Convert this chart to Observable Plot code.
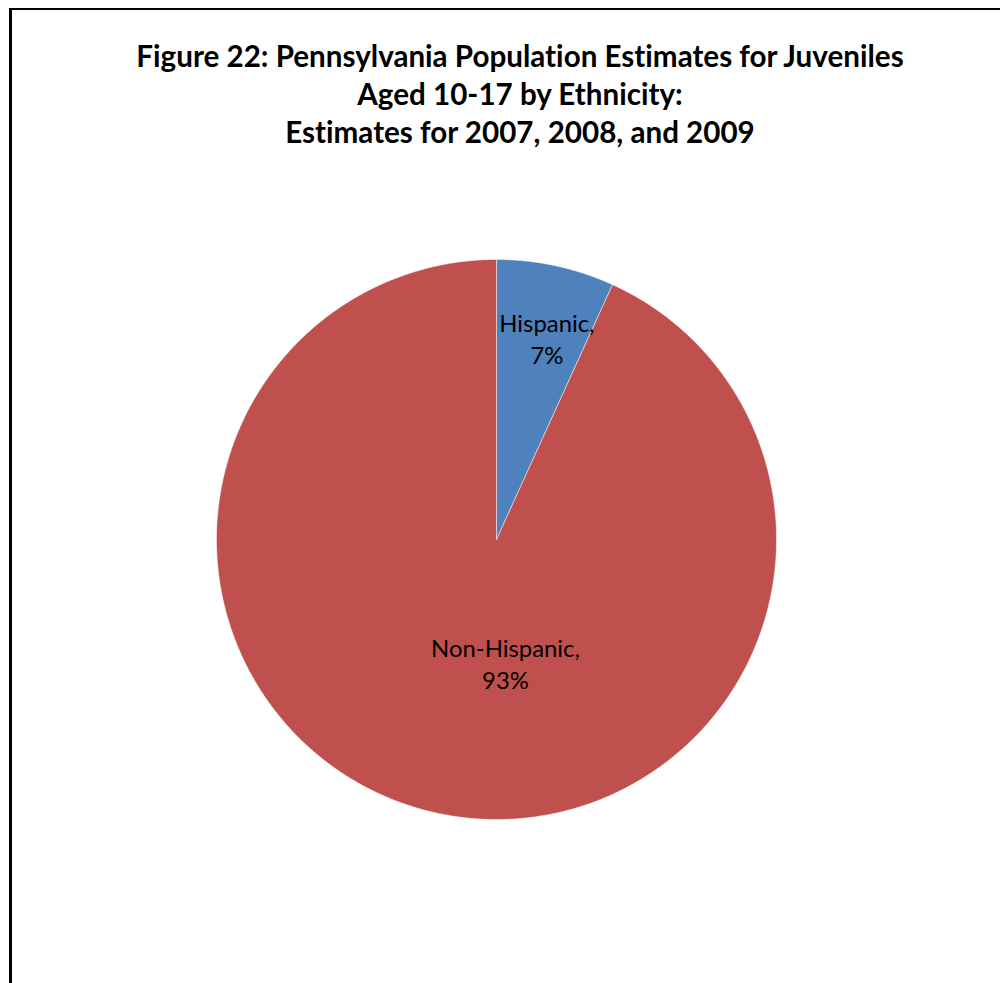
<!DOCTYPE html>
<html>
<head>
<meta charset="utf-8">
<script src="https://cdn.jsdelivr.net/npm/d3@7"></script>
<script src="https://cdn.jsdelivr.net/npm/@observablehq/plot@0.6"></script>
<style>
  html, body { margin: 0; padding: 0; background: #fff; }
  #page { position: relative; width: 1000px; height: 983px; overflow: hidden; background: #fff; }
  #frame { position: absolute; left: 9px; top: 8px; width: 1200px; height: 1200px;
           border-left: 3px solid #000; border-top: 2px solid #000; box-sizing: border-box; }
  #chart { position: absolute; left: 0; top: 0; }
  #title { position: absolute; left: 0; top: 0; }
  text { font-variant-ligatures: none; font-feature-settings: "liga" 0, "clig" 0; }
</style>
</head>
<body>
<div id="page">
  <div id="frame"></div>
  <div id="chart"></div>
  <svg id="title" width="1000" height="170"></svg>
</div>
<script>
// ---- data ----
const categories = ["Hispanic", "Non-Hispanic"];
const shares = [6.8, 93.2];
const labelTexts = ["7%", "93%"];
const colors = ["#4F81BD", "#C0504D"];
const titleLines = [
  "Figure 22: Pennsylvania Population Estimates for Juveniles",
  "Aged 10-17 by Ethnicity:",
  "Estimates for 2007, 2008, and 2009"
];

// ---- layout (not data) ----
const labelLayout = { "Hispanic": [0.18, 0.72], "Non-Hispanic": [0.032, -0.44] };
const titleBaselines = [67, 105, 143];
const titleCenterX = 520;
const titleLine1Width = 770;
const labelRefWidth = 149; // pixel width of "Non-Hispanic," in the reference
const titleFont = "Lato, 'Open Sans', 'Liberation Sans', sans-serif";
const labelFont = "Lato, 'Open Sans', sans-serif";

const ctx = document.createElement("canvas").getContext("2d");
function fitSize(text, weight, family, target) {
  ctx.font = `${weight} 100px ${family}`;
  return 100 * target / ctx.measureText(text).width;
}

// ---- title ----
(function () {
  const fs = fitSize(titleLines[0], "bold", titleFont, titleLine1Width);
  const svg = d3.select("#title");
  titleLines.forEach((t, i) => {
    svg.append("text")
      .attr("x", titleCenterX).attr("y", titleBaselines[i])
      .attr("text-anchor", "middle")
      .attr("font-family", titleFont).attr("font-weight", "bold")
      .attr("font-size", fs).attr("fill", "#000")
      .style("font-variant-ligatures", "none")
      .text(t);
  });
})();

// ---- pie geometry from data ----
const table = categories.map((c, i) => ({ name: c, value: shares[i], label: labelTexts[i] }));
const arcs = d3.pie().sort(null).value(d => d.value)(table);
const polyPoints = [];
arcs.forEach(a => {
  const name = a.data.name;
  polyPoints.push({ name, x: 0, y: 0 });
  const n = Math.max(2, Math.ceil((a.endAngle - a.startAngle) / 0.005));
  for (let k = 0; k <= n; k++) {
    const t = a.startAngle + (a.endAngle - a.startAngle) * k / n;
    polyPoints.push({ name, x: Math.sin(t), y: Math.cos(t) });
  }
  polyPoints.push({ name, x: 0, y: 0 });
});
const labels = table.map(d => ({
  name: d.name,
  text: `${d.name},\n${d.label}`,
  x: labelLayout[d.name][0],
  y: labelLayout[d.name][1]
}));
const labelSize = fitSize("Non-Hispanic,", "normal", labelFont, labelRefWidth);

const chart = Plot.plot({
  width: 1000,
  height: 983,
  margin: 0,
  style: { background: "transparent", overflow: "visible" },
  x: { domain: [-1, 1], range: [216, 776], axis: null },
  y: { domain: [-1, 1], range: [819, 259], axis: null },
  color: { domain: categories, range: colors },
  marks: [
    Plot.line(polyPoints, {
      x: "x", y: "y", z: "name", fill: "name",
      stroke: "#ffffff", strokeWidth: 0.8, strokeOpacity: 0.6, curve: "linear"
    }),
    Plot.text(labels, {
      x: "x", y: "y", text: "text",
      fontSize: labelSize, lineHeight: 32 / labelSize,
      fontFamily: labelFont,
      fill: "#000", textAnchor: "middle", lineAnchor: "middle"
    })
  ]
});
document.getElementById("chart").appendChild(chart);
</script>
</body>
</html>
